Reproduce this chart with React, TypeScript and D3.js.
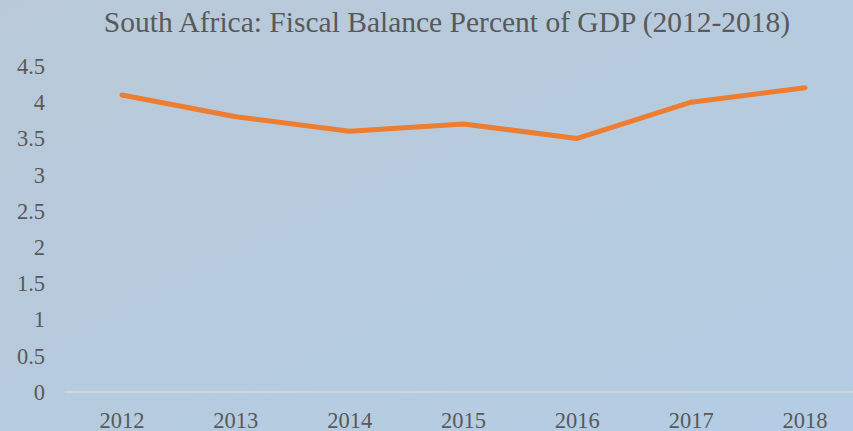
import React from "react";
import * as d3 from "d3";

const years = ["2012", "2013", "2014", "2015", "2016", "2017", "2018"];
const balance = [4.1, 3.8, 3.6, 3.7, 3.5, 4.0, 4.2];
const yTicks = [0, 0.5, 1, 1.5, 2, 2.5, 3, 3.5, 4, 4.5];
const title = "South Africa: Fiscal Balance Percent of GDP (2012-2018)";

const W = 853;
const H = 431;

export default function App() {
  const x = d3.scalePoint<string>().domain(years).range([122, 805]);
  const y = d3.scaleLinear().domain([0, 4.5]).range([392, 66]);
  const line = d3
    .line<number>()
    .x((_, i) => x(years[i]) as number)
    .y((d) => y(d));
  const font = "'Liberation Serif', 'Times New Roman', serif";
  return (
    <svg
      width={W}
      height={H}
      style={{ position: "fixed", left: 0, top: 0, display: "block" }}
    >
      <defs>
        <linearGradient id="bg" x1="0" y1="0" x2="1" y2="1">
          <stop offset="0" stopColor="#b9c9d8" />
          <stop offset="1" stopColor="#b4cde4" />
        </linearGradient>
      </defs>
      <rect x={0} y={0} width={W} height={H} fill="url(#bg)" />
      <text
        x={447}
        y={32}
        textAnchor="middle"
        fontFamily={font}
        fontSize={29.5}
        fill="#595959"
      >
        {title}
      </text>
      <line x1={65} x2={W} y1={y(0)} y2={y(0)} stroke="#d9d9d9" strokeWidth={1.5} />
      {yTicks.map((t) => (
        <text
          key={t}
          x={45}
          y={y(t)}
          dy="0.35em"
          textAnchor="end"
          fontFamily={font}
          fontSize={22.5}
          fill="#595959"
        >
          {t}
        </text>
      ))}
      {years.map((yr) => (
        <text
          key={yr}
          x={x(yr)}
          y={428}
          textAnchor="middle"
          fontFamily={font}
          fontSize={22.5}
          fill="#595959"
        >
          {yr}
        </text>
      ))}
      <path
        d={line(balance) || ""}
        fill="none"
        stroke="#ed7d31"
        strokeWidth={5}
        strokeLinecap="round"
        strokeLinejoin="round"
      />
    </svg>
  );
}
